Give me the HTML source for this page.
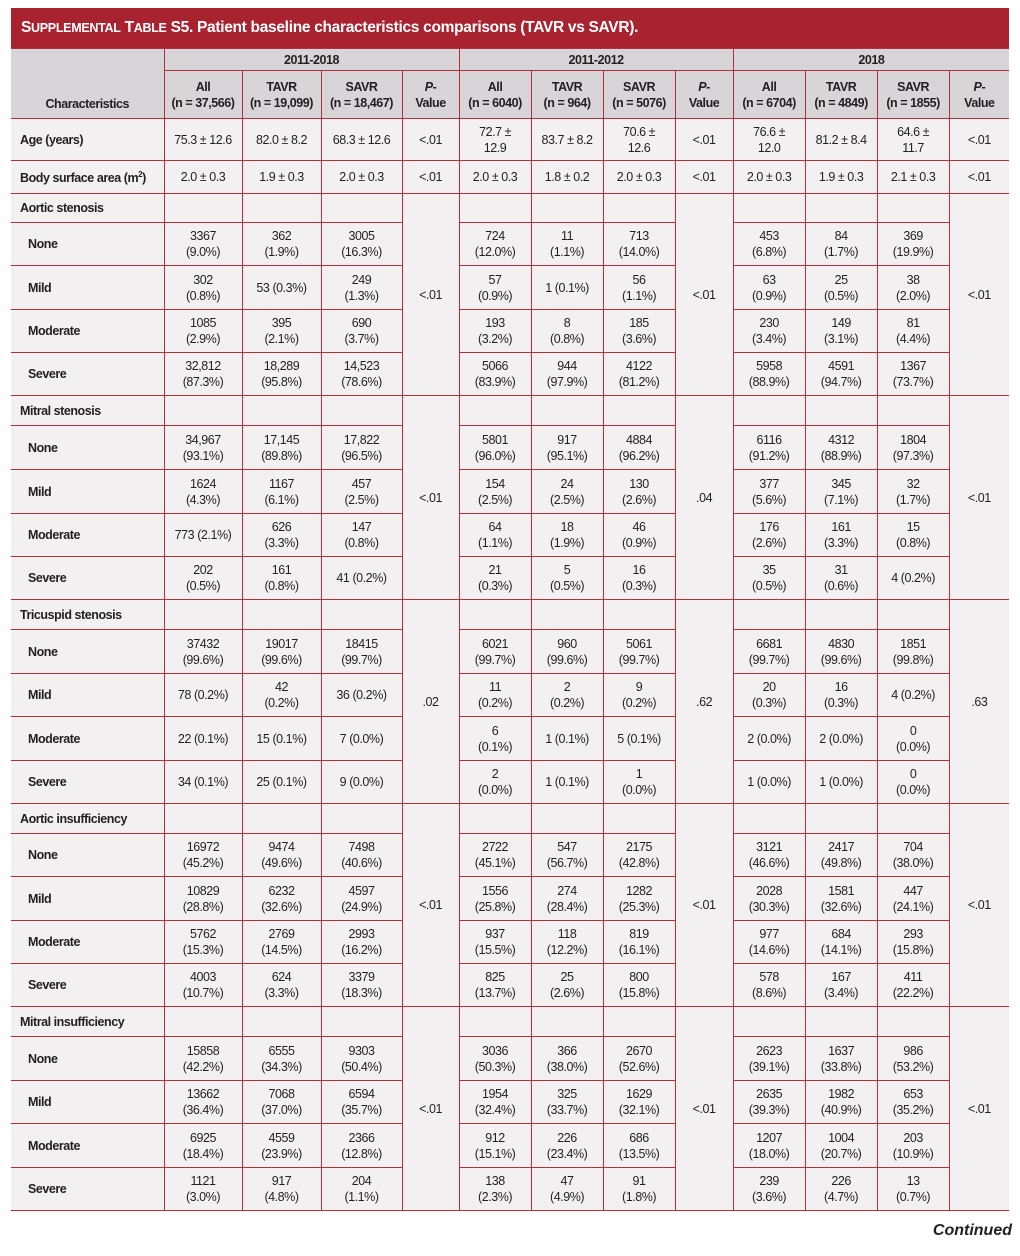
<!DOCTYPE html>
<html><head><meta charset="utf-8"><style>
html,body{margin:0;padding:0;background:#fff;width:1020px;height:1256px;overflow:hidden}
body{font-family:"Liberation Sans",sans-serif;color:#231f20}
.title{position:absolute;left:11px;top:8px;width:998px;height:40px;background:#a8232f;color:#fff;font-weight:bold;font-size:15.5px;line-height:40px;box-sizing:border-box;padding-left:10px;letter-spacing:-0.3px}
.title .sc{font-size:12.5px}
table{position:absolute;left:11px;top:48px;border-collapse:collapse;table-layout:fixed;width:998px;font-size:12.5px;letter-spacing:-0.45px}
td,th{border:1px solid #b0323c;text-align:center;vertical-align:middle;padding:0 2px;line-height:16px;background:#f3f0f1;overflow:hidden;white-space:nowrap}
th{background:#d8d5d8;font-weight:bold}
td.l{text-align:left;font-weight:bold;padding-left:9px}
td.s{text-align:left;font-weight:bold;padding-left:17px}
table tr>*:first-child{border-left:none}
table tr>*:last-child{border-right:none}
.cont{position:absolute;right:8px;top:1222px;font-weight:bold;font-style:italic;font-size:16px}
</style></head><body>
<div class="title">S<span class="sc">UPPLEMENTAL</span> T<span class="sc">ABLE</span> S5. Patient baseline characteristics comparisons (TAVR vs SAVR).</div>
<table>
<colgroup><col style="width:153px"><col style="width:78px"><col style="width:79px"><col style="width:81px"><col style="width:57px"><col style="width:72px"><col style="width:72px"><col style="width:72px"><col style="width:58px"><col style="width:72px"><col style="width:72px"><col style="width:72px"><col style="width:60px"></colgroup>
<tr style="height:22px"><th rowspan="2" style="vertical-align:bottom;padding-bottom:6px">Characteristics</th><th colspan="4">2011-2018</th><th colspan="4">2011-2012</th><th colspan="4">2018</th></tr>
<tr style="height:48px"><th>All<br>(n = 37,566)</th><th>TAVR<br>(n = 19,099)</th><th>SAVR<br>(n = 18,467)</th><th><i>P</i>-<br>Value</th><th>All<br>(n = 6040)</th><th>TAVR<br>(n = 964)</th><th>SAVR<br>(n = 5076)</th><th><i>P</i>-<br>Value</th><th>All<br>(n = 6704)</th><th>TAVR<br>(n = 4849)</th><th>SAVR<br>(n = 1855)</th><th><i>P</i>-<br>Value</th></tr>
<tr style="height:42px"><td class="l">Age (years)</td><td>75.3 ± 12.6</td><td>82.0 ± 8.2</td><td>68.3 ± 12.6</td><td>&lt;.01</td><td>72.7 ±<br>12.9</td><td>83.7 ± 8.2</td><td>70.6 ±<br>12.6</td><td>&lt;.01</td><td>76.6 ±<br>12.0</td><td>81.2 ± 8.4</td><td>64.6 ±<br>11.7</td><td>&lt;.01</td></tr>
<tr style="height:33px"><td class="l">Body surface area (m<sup style="font-size:8px">2</sup>)</td><td>2.0 ± 0.3</td><td>1.9 ± 0.3</td><td>2.0 ± 0.3</td><td>&lt;.01</td><td>2.0 ± 0.3</td><td>1.8 ± 0.2</td><td>2.0 ± 0.3</td><td>&lt;.01</td><td>2.0 ± 0.3</td><td>1.9 ± 0.3</td><td>2.1 ± 0.3</td><td>&lt;.01</td></tr>

<tr style="height:29px"><td class="l">Aortic stenosis</td><td></td><td></td><td></td><td rowspan="5">&lt;.01</td><td></td><td></td><td></td><td rowspan="5">&lt;.01</td><td></td><td></td><td></td><td rowspan="5">&lt;.01</td></tr>
<tr style="height:43px"><td class="s">None</td><td>3367<br>(9.0%)</td><td>362<br>(1.9%)</td><td>3005<br>(16.3%)</td><td>724<br>(12.0%)</td><td>11<br>(1.1%)</td><td>713<br>(14.0%)</td><td>453<br>(6.8%)</td><td>84<br>(1.7%)</td><td>369<br>(19.9%)</td></tr>
<tr style="height:44px"><td class="s">Mild</td><td>302<br>(0.8%)</td><td>53 (0.3%)</td><td>249<br>(1.3%)</td><td>57<br>(0.9%)</td><td>1 (0.1%)</td><td>56<br>(1.1%)</td><td>63<br>(0.9%)</td><td>25<br>(0.5%)</td><td>38<br>(2.0%)</td></tr>
<tr style="height:43px"><td class="s">Moderate</td><td>1085<br>(2.9%)</td><td>395<br>(2.1%)</td><td>690<br>(3.7%)</td><td>193<br>(3.2%)</td><td>8<br>(0.8%)</td><td>185<br>(3.6%)</td><td>230<br>(3.4%)</td><td>149<br>(3.1%)</td><td>81<br>(4.4%)</td></tr>
<tr style="height:43px"><td class="s">Severe</td><td>32,812<br>(87.3%)</td><td>18,289<br>(95.8%)</td><td>14,523<br>(78.6%)</td><td>5066<br>(83.9%)</td><td>944<br>(97.9%)</td><td>4122<br>(81.2%)</td><td>5958<br>(88.9%)</td><td>4591<br>(94.7%)</td><td>1367<br>(73.7%)</td></tr>

<tr style="height:30px"><td class="l">Mitral stenosis</td><td></td><td></td><td></td><td rowspan="5">&lt;.01</td><td></td><td></td><td></td><td rowspan="5">.04</td><td></td><td></td><td></td><td rowspan="5">&lt;.01</td></tr>
<tr style="height:44px"><td class="s">None</td><td>34,967<br>(93.1%)</td><td>17,145<br>(89.8%)</td><td>17,822<br>(96.5%)</td><td>5801<br>(96.0%)</td><td>917<br>(95.1%)</td><td>4884<br>(96.2%)</td><td>6116<br>(91.2%)</td><td>4312<br>(88.9%)</td><td>1804<br>(97.3%)</td></tr>
<tr style="height:44px"><td class="s">Mild</td><td>1624<br>(4.3%)</td><td>1167<br>(6.1%)</td><td>457<br>(2.5%)</td><td>154<br>(2.5%)</td><td>24<br>(2.5%)</td><td>130<br>(2.6%)</td><td>377<br>(5.6%)</td><td>345<br>(7.1%)</td><td>32<br>(1.7%)</td></tr>
<tr style="height:43px"><td class="s">Moderate</td><td>773 (2.1%)</td><td>626<br>(3.3%)</td><td>147<br>(0.8%)</td><td>64<br>(1.1%)</td><td>18<br>(1.9%)</td><td>46<br>(0.9%)</td><td>176<br>(2.6%)</td><td>161<br>(3.3%)</td><td>15<br>(0.8%)</td></tr>
<tr style="height:43px"><td class="s">Severe</td><td>202<br>(0.5%)</td><td>161<br>(0.8%)</td><td>41 (0.2%)</td><td>21<br>(0.3%)</td><td>5<br>(0.5%)</td><td>16<br>(0.3%)</td><td>35<br>(0.5%)</td><td>31<br>(0.6%)</td><td>4 (0.2%)</td></tr>

<tr style="height:30px"><td class="l">Tricuspid stenosis</td><td></td><td></td><td></td><td rowspan="5">.02</td><td></td><td></td><td></td><td rowspan="5">.62</td><td></td><td></td><td></td><td rowspan="5">.63</td></tr>
<tr style="height:44px"><td class="s">None</td><td>37432<br>(99.6%)</td><td>19017<br>(99.6%)</td><td>18415<br>(99.7%)</td><td>6021<br>(99.7%)</td><td>960<br>(99.6%)</td><td>5061<br>(99.7%)</td><td>6681<br>(99.7%)</td><td>4830<br>(99.6%)</td><td>1851<br>(99.8%)</td></tr>
<tr style="height:43px"><td class="s">Mild</td><td>78 (0.2%)</td><td>42<br>(0.2%)</td><td>36 (0.2%)</td><td>11<br>(0.2%)</td><td>2<br>(0.2%)</td><td>9<br>(0.2%)</td><td>20<br>(0.3%)</td><td>16<br>(0.3%)</td><td>4 (0.2%)</td></tr>
<tr style="height:44px"><td class="s">Moderate</td><td>22 (0.1%)</td><td>15 (0.1%)</td><td>7 (0.0%)</td><td>6<br>(0.1%)</td><td>1 (0.1%)</td><td>5 (0.1%)</td><td>2 (0.0%)</td><td>2 (0.0%)</td><td>0<br>(0.0%)</td></tr>
<tr style="height:43px"><td class="s">Severe</td><td>34 (0.1%)</td><td>25 (0.1%)</td><td>9 (0.0%)</td><td>2<br>(0.0%)</td><td>1 (0.1%)</td><td>1<br>(0.0%)</td><td>1 (0.0%)</td><td>1 (0.0%)</td><td>0<br>(0.0%)</td></tr>

<tr style="height:30px"><td class="l">Aortic insufficiency</td><td></td><td></td><td></td><td rowspan="5">&lt;.01</td><td></td><td></td><td></td><td rowspan="5">&lt;.01</td><td></td><td></td><td></td><td rowspan="5">&lt;.01</td></tr>
<tr style="height:43px"><td class="s">None</td><td>16972<br>(45.2%)</td><td>9474<br>(49.6%)</td><td>7498<br>(40.6%)</td><td>2722<br>(45.1%)</td><td>547<br>(56.7%)</td><td>2175<br>(42.8%)</td><td>3121<br>(46.6%)</td><td>2417<br>(49.8%)</td><td>704<br>(38.0%)</td></tr>
<tr style="height:44px"><td class="s">Mild</td><td>10829<br>(28.8%)</td><td>6232<br>(32.6%)</td><td>4597<br>(24.9%)</td><td>1556<br>(25.8%)</td><td>274<br>(28.4%)</td><td>1282<br>(25.3%)</td><td>2028<br>(30.3%)</td><td>1581<br>(32.6%)</td><td>447<br>(24.1%)</td></tr>
<tr style="height:43px"><td class="s">Moderate</td><td>5762<br>(15.3%)</td><td>2769<br>(14.5%)</td><td>2993<br>(16.2%)</td><td>937<br>(15.5%)</td><td>118<br>(12.2%)</td><td>819<br>(16.1%)</td><td>977<br>(14.6%)</td><td>684<br>(14.1%)</td><td>293<br>(15.8%)</td></tr>
<tr style="height:43px"><td class="s">Severe</td><td>4003<br>(10.7%)</td><td>624<br>(3.3%)</td><td>3379<br>(18.3%)</td><td>825<br>(13.7%)</td><td>25<br>(2.6%)</td><td>800<br>(15.8%)</td><td>578<br>(8.6%)</td><td>167<br>(3.4%)</td><td>411<br>(22.2%)</td></tr>

<tr style="height:30px"><td class="l">Mitral insufficiency</td><td></td><td></td><td></td><td rowspan="5">&lt;.01</td><td></td><td></td><td></td><td rowspan="5">&lt;.01</td><td></td><td></td><td></td><td rowspan="5">&lt;.01</td></tr>
<tr style="height:44px"><td class="s">None</td><td>15858<br>(42.2%)</td><td>6555<br>(34.3%)</td><td>9303<br>(50.4%)</td><td>3036<br>(50.3%)</td><td>366<br>(38.0%)</td><td>2670<br>(52.6%)</td><td>2623<br>(39.1%)</td><td>1637<br>(33.8%)</td><td>986<br>(53.2%)</td></tr>
<tr style="height:43px"><td class="s">Mild</td><td>13662<br>(36.4%)</td><td>7068<br>(37.0%)</td><td>6594<br>(35.7%)</td><td>1954<br>(32.4%)</td><td>325<br>(33.7%)</td><td>1629<br>(32.1%)</td><td>2635<br>(39.3%)</td><td>1982<br>(40.9%)</td><td>653<br>(35.2%)</td></tr>
<tr style="height:44px"><td class="s">Moderate</td><td>6925<br>(18.4%)</td><td>4559<br>(23.9%)</td><td>2366<br>(12.8%)</td><td>912<br>(15.1%)</td><td>226<br>(23.4%)</td><td>686<br>(13.5%)</td><td>1207<br>(18.0%)</td><td>1004<br>(20.7%)</td><td>203<br>(10.9%)</td></tr>
<tr style="height:43px"><td class="s">Severe</td><td>1121<br>(3.0%)</td><td>917<br>(4.8%)</td><td>204<br>(1.1%)</td><td>138<br>(2.3%)</td><td>47<br>(4.9%)</td><td>91<br>(1.8%)</td><td>239<br>(3.6%)</td><td>226<br>(4.7%)</td><td>13<br>(0.7%)</td></tr>
</table>
<div class="cont">Continued</div>
</body></html>
